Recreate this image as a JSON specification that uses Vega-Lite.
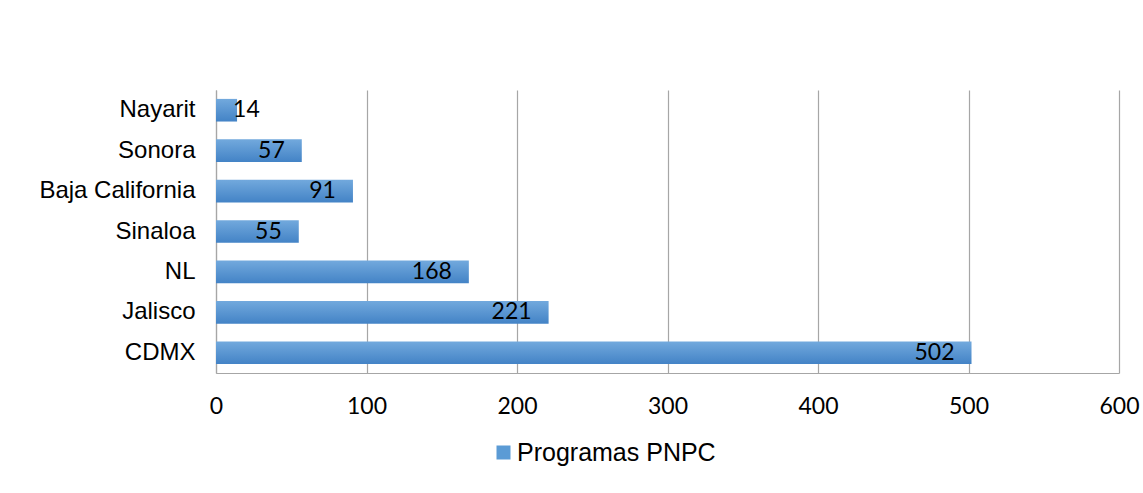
{
  "$schema": "https://vega.github.io/schema/vega-lite/v6.json",
  "autosize": "none",
  "padding": {"left": 216, "top": 90, "right": 24, "bottom": 120},
  "width": 903,
  "height": 283,
  "background": "white",
  "config": {
    "view": {"stroke": null},
    "axis": {"gridColor": "#a6a6a6", "domainColor": "#a6a6a6", "gridWidth": 1.2, "domainWidth": 1.2, "ticks": false, "labelColor": "#000000", "titleColor": "#000000"}
  },
  "data": {
    "values": [
      {"state": "Nayarit", "value": 14},
      {"state": "Sonora", "value": 57},
      {"state": "Baja California", "value": 91},
      {"state": "Sinaloa", "value": 55},
      {"state": "NL", "value": 168},
      {"state": "Jalisco", "value": 221},
      {"state": "CDMX", "value": 502}
    ]
  },
  "encoding": {
    "y": {
      "field": "state", "type": "nominal", "sort": null,
      "scale": {"paddingInner": 0.44, "paddingOuter": 0.22},
      "axis": {"title": null, "labelFont": "Liberation Sans", "labelFontSize": 24, "labelPadding": 21, "domain": true, "labelLimit": 400}
    },
    "x": {
      "field": "value", "type": "quantitative",
      "scale": {"domain": [0, 600], "nice": false},
      "axis": {"title": null, "values": [0, 100, 200, 300, 400, 500, 600], "grid": true, "labelFont": "Lato", "labelFontSize": 23, "labelPadding": 22, "labelFlush": false}
    }
  },
  "layer": [
    {
      "mark": {"type": "bar", "color": {"gradient": "linear", "x1": 0, "y1": 0, "x2": 0, "y2": 1, "stops": [{"offset": 0, "color": "#72a9dd"}, {"offset": 1, "color": "#4383c6"}]}}
    },
    {
      "transform": [{"filter": "false"}],
      "mark": "bar",
      "encoding": {
        "color": {"datum": "Programas PNPC", "type": "nominal", "scale": {"domain": ["Programas PNPC"], "range": ["#5b9bd5"]},
          "legend": {"title": null, "orient": "none", "legendX": 275, "legendY": 350, "symbolType": "square", "symbolSize": 196, "labelFont": "Liberation Sans", "labelFontSize": 25, "labelColor": "#000000", "labelOffset": 1, "labelLimit": 500, "padding": 0}}
      }
    },
    {
      "transform": [{"filter": "datum.value >= 30"}],
      "mark": {"type": "text", "align": "right", "baseline": "middle", "dx": -17, "font": "Lato", "fontSize": 23, "color": "#000000"},
      "encoding": {"text": {"field": "value", "type": "quantitative"}}
    },
    {
      "transform": [{"filter": "datum.value < 30"}],
      "mark": {"type": "text", "align": "left", "baseline": "middle", "dx": -4, "font": "Lato", "fontSize": 23, "color": "#000000"},
      "encoding": {"text": {"field": "value", "type": "quantitative"}}
    }
  ]
}
